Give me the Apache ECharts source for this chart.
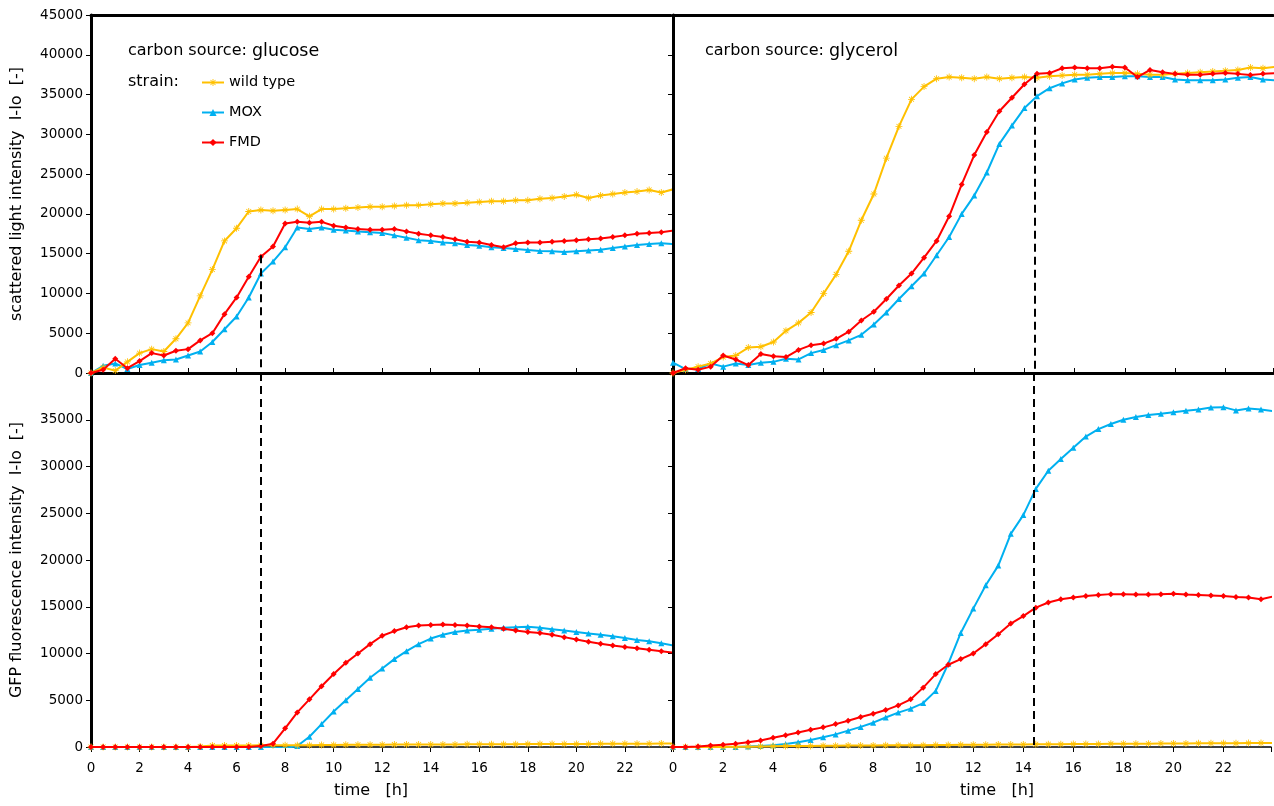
<!DOCTYPE html>
<html><head><meta charset="utf-8">
<script src="https://cdn.jsdelivr.net/npm/echarts@6/dist/echarts.min.js"></script>
<style>html,body{margin:0;padding:0;background:#fff}#c{width:1274px;height:806px}</style>
</head><body><div id="c"></div>
<script>
// time points [h]
const times = [0,0.5,1,1.5,2,2.5,3,3.5,4,4.5,5,5.5,6,6.5,7,7.5,8,8.5,9,9.5,10,10.5,11,11.5,12,12.5,13,13.5,14,14.5,15,15.5,16,16.5,17,17.5,18,18.5,19,19.5,20,20.5,21,21.5,22,22.5,23,23.5,24];
const xTicks = [0,2,4,6,8,10,12,14,16,18,20,22];
const strains = ['wild type','MOX','FMD'];
const sources = ['glucose','glycerol'];

// scattered light intensity, glucose
const glcScatterWT  = [0,700,300,1400,2500,3000,2700,4300,6300,9700,13000,16600,18200,20300,20500,20400,20500,20600,19700,20600,20600,20700,20800,20900,20900,21000,21100,21100,21200,21300,21300,21400,21500,21600,21600,21700,21700,21900,22000,22200,22400,22000,22300,22500,22700,22800,23000,22700,23100];
const glcScatterMOX = [0,900,1200,500,1000,1300,1600,1700,2200,2700,3900,5500,7100,9500,12500,14000,15800,18300,18100,18300,18000,17900,17800,17700,17600,17300,17000,16700,16600,16400,16300,16100,16000,15800,15700,15600,15450,15350,15300,15200,15300,15400,15500,15700,15900,16100,16200,16300,16200];
const glcScatterFMD = [0,400,1800,600,1500,2500,2200,2800,3000,4100,5000,7400,9500,12100,14600,15900,18800,19000,18900,19000,18500,18300,18100,18000,18000,18100,17800,17500,17300,17100,16800,16500,16400,16100,15800,16300,16400,16400,16500,16600,16700,16800,16900,17100,17300,17500,17600,17700,17900];

// scattered light intensity, glycerol
const glyScatterWT  = [0,400,800,1200,2000,2200,3200,3300,3900,5300,6300,7600,10000,12400,15300,19200,22500,27000,31000,34400,36000,37000,37200,37100,37000,37200,37000,37100,37200,37100,37300,37400,37500,37500,37600,37700,37700,37600,37500,37500,37600,37700,37800,37900,38000,38100,38400,38300,38500];
const glyScatterMOX = [1300,500,500,1200,800,1200,1000,1300,1400,1800,1700,2500,2900,3500,4100,4800,6100,7600,9300,10900,12500,14800,17100,20000,22300,25200,28800,31100,33300,34800,35800,36400,36900,37100,37200,37200,37300,37300,37200,37200,36900,36800,36800,36800,36900,37100,37200,36900,36800];
const glyScatterFMD = [0,600,400,800,2200,1700,1000,2400,2100,2000,2900,3500,3700,4300,5200,6600,7700,9300,11000,12500,14500,16600,19700,23700,27400,30300,32900,34600,36300,37600,37700,38300,38400,38300,38300,38500,38400,37200,38100,37800,37600,37500,37500,37600,37700,37600,37450,37600,37700];

// GFP fluorescence intensity, glucose
const glcGfpWT  = [0,0,0,0,0,0,0,0,0,50,150,150,150,150,200,200,200,200,200,220,220,230,240,250,250,260,260,270,270,280,280,290,290,300,300,300,310,310,320,320,330,330,340,340,350,350,360,370,380];
const glcGfpMOX = [0,0,0,0,0,0,0,0,0,0,0,0,0,0,0,-100,-100,100,1100,2450,3800,5000,6200,7400,8400,9400,10250,11000,11600,12000,12300,12450,12550,12650,12750,12800,12850,12750,12600,12450,12300,12150,12000,11850,11650,11450,11300,11100,10850];
const glcGfpFMD = [0,0,0,0,0,0,0,0,0,0,0,0,0,0,100,350,2000,3700,5100,6500,7800,9000,10000,11000,11900,12400,12800,13000,13050,13100,13050,13000,12900,12800,12650,12450,12300,12200,12000,11750,11500,11250,11050,10850,10700,10550,10400,10250,10100];

// GFP fluorescence intensity, glycerol
const glyGfpWT  = [0,0,0,0,0,20,40,60,80,100,110,120,130,140,150,160,170,180,190,200,200,210,220,230,240,250,260,270,280,290,300,300,310,320,330,340,350,350,360,370,380,380,390,400,400,410,420,430,430];
const glyGfpMOX = [0,0,0,0,0,0,50,100,200,330,500,750,1050,1350,1750,2150,2600,3150,3680,4100,4700,6000,8900,12200,14800,17300,19400,22800,24800,27600,29550,30800,32000,33200,34000,34550,35000,35300,35500,35650,35800,35950,36100,36300,36350,36000,36200,36100,35900];
const glyGfpFMD = [0,0,50,150,250,350,500,700,1000,1250,1550,1850,2100,2450,2800,3200,3550,3950,4450,5100,6350,7800,8800,9400,10000,11000,12050,13200,14000,14900,15450,15800,16000,16150,16250,16350,16350,16300,16300,16350,16400,16300,16250,16200,16150,16050,16000,15800,16100];

// reference lines: [time, top value in scatter panel]
const refGlc = [7, 14800];
const refGly = [14.4, 37500];

const FONT = '"DejaVu Sans", Verdana, sans-serif';
const colors = {'wild type':'#FFC000', 'MOX':'#00B0F0', 'FMD':'#FF0000'};
const asterisk = 'path://M-0.6,-5H0.6V5H-0.6Z M-5,-0.6H5V0.6H-5Z M-3.9,-3.1L-3.1,-3.9L3.9,3.1L3.1,3.9Z M3.1,-3.9L3.9,-3.1L-3.1,3.9L-3.9,3.1Z';
const symbols = {'wild type':[asterisk,7], 'MOX':['triangle',6], 'FMD':['diamond',6]};

function pairs(arr){ return times.map((t,i)=>[t, arr[i]]); }
const dashStyle = {color:'#000', width:2, type:[8,5]};
function refLine(t, top){
  return {silent:true, symbol:['none','none'], label:{show:false}, lineStyle:dashStyle, animation:false,
    data:[[{coord:[t, top]},{coord:[t, 0]}]]};
}
function mkSeries(name, arr, gi, ref){
  const s = {name, type:'line', xAxisIndex:gi, yAxisIndex:gi, data:pairs(arr),
    symbol:symbols[name][0], symbolSize:symbols[name][1], showAllSymbol:true,
    lineStyle:{width:2, color:colors[name]}, itemStyle:{color:colors[name]},
    emphasis:{disabled:true}, z: name==='wild type'?3:(name==='FMD'?4:2)};
  if (ref) s.markLine = ref;
  return s;
}

const series = [
  mkSeries('MOX', glcScatterMOX, 0), mkSeries('FMD', glcScatterFMD, 0, refLine(refGlc[0], refGlc[1])), mkSeries('wild type', glcScatterWT, 0),
  mkSeries('MOX', glyScatterMOX, 1), mkSeries('wild type', glyScatterWT, 1), mkSeries('FMD', glyScatterFMD, 1, refLine(refGly[0], refGly[1])),
  mkSeries('MOX', glcGfpMOX, 2), mkSeries('FMD', glcGfpFMD, 2, refLine(refGlc[0], 40000)), mkSeries('wild type', glcGfpWT, 2),
  mkSeries('MOX', glyGfpMOX, 3), mkSeries('FMD', glyGfpFMD, 3, refLine(refGly[0], 40000)), mkSeries('wild type', glyGfpWT, 3)
];

const lbl = {color:'#000', fontFamily:FONT, fontSize:13.5};
function xAx(gi, bottom, pad){
  return {type:'value', gridIndex:gi, min:0, max:23.9, interval:2,
    axisLine:{show:true, onZero:false, lineStyle:{color:'#000', width: bottom?1.5:3}},
    axisTick:{show:true, inside:!bottom, length:5, lineStyle:{color:'#000', width:1}},
    axisLabel: bottom ? Object.assign({margin:14, formatter:v=> xTicks.includes(v)?String(v):''}, lbl) : {show:false},
    splitLine:{show:false},
    name: bottom ? 'time   [h]' : '', nameLocation:'middle', nameGap:36,
    nameTextStyle:{color:'#000', fontFamily:FONT, fontSize:16, padding: pad || 0}};
}
function topBorder(gi){
  return {type:'value', gridIndex:gi, position:'top', min:0, max:23.9,
    axisLine:{show:true, onZero:false, lineStyle:{color:'#000', width:3}},
    axisTick:{show:false}, axisLabel:{show:false}, splitLine:{show:false}};
}
function yAx(gi, max, showLabels, name){
  return {type:'value', gridIndex:gi, min:0, max:max, interval:5000,
    axisLine:{show:true, onZero:false, lineStyle:{color:'#000', width:3}},
    axisTick:{show:true, inside:false, length:5, lineStyle:{color:'#000', width:1}},
    axisLabel: showLabels ? Object.assign({margin:8, formatter:v=> v>=40000 && max===40000 ? '' : String(v)}, lbl) : {show:false},
    splitLine:{show:false},
    name: name||'', nameLocation:'middle', nameGap:66,
    nameTextStyle:{color:'#000', fontFamily:FONT, fontSize:16}};
}

const titleStyle = {fontFamily:FONT, fontWeight:'normal', color:'#000',
  rich:{a:{fontFamily:FONT, fontSize:16, color:'#000'}, b:{fontFamily:FONT, fontSize:17.5, color:'#000'}}};

const option = {
  animation:false,
  backgroundColor:'#fff',
  title:[
    {text:'{a|carbon source: }{b|' + sources[0] + '}', left:123, top:37, textStyle:titleStyle},
    {text:'{a|strain:}', left:123, top:69, textStyle:titleStyle},
    {text:'{a|carbon source: }{b|' + sources[1] + '}', left:700, top:37, textStyle:titleStyle}
  ],
  legend:{data:strains, orient:'vertical', left:196, top:70, itemWidth:22, itemHeight:9, itemGap:15,
    selectedMode:false, textStyle:{fontFamily:FONT, fontSize:14.5, color:'#000'}},
  grid:[
    {left:91, top:15, width:580, height:358},
    {left:673, top:15, width:600, height:358},
    {left:91, top:373, width:580, height:374},
    {left:673, top:373, width:600, height:374}
  ],
  xAxis:[xAx(0,false), xAx(1,false), xAx(2,true,[0,20,0,0]), xAx(3,true,[0,0,0,50]), topBorder(0), topBorder(1)],
  yAxis:[
    yAx(0, 45000, true, 'scattered light intensity  I-Io  [-]'),
    yAx(1, 45000, false),
    yAx(2, 40000, true, 'GFP fluorescence intensity  I-Io  [-]'),
    yAx(3, 40000, false)
  ],
  series
};
const chart = echarts.init(document.getElementById('c'), null, {renderer:'canvas'});
chart.setOption(option);
</script></body></html>
